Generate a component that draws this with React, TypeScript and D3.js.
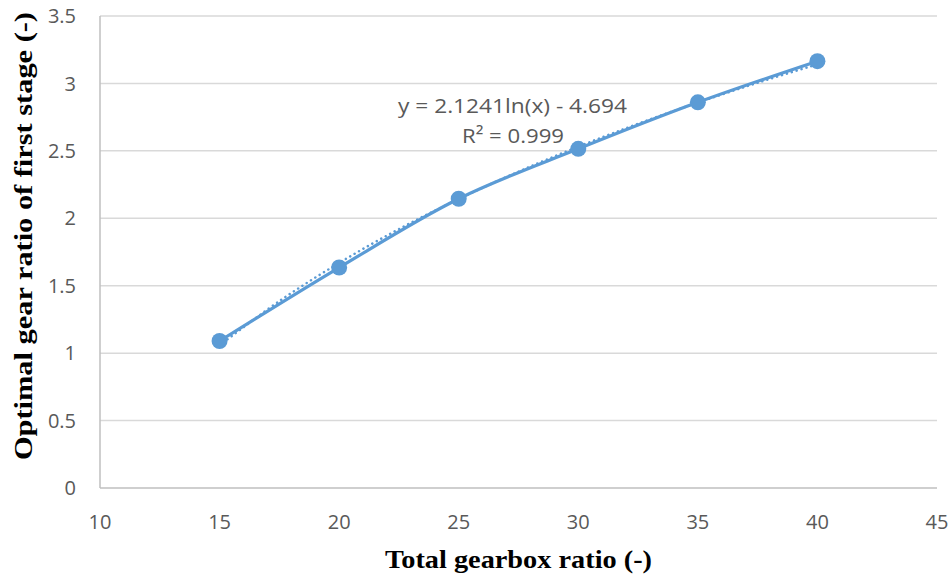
import React from "react";
import * as d3 from "d3";

// values
const totalRatio = [15, 20, 25, 30, 35, 40];
const firstStage = [1.09, 1.635, 2.145, 2.515, 2.86, 3.165];
// log trendline as printed: y = 2.1241ln(x) - 4.694
const trendX = [15, 17.5, 20, 22.5, 25, 27.5, 30, 32.5, 35, 37.5, 40];
const trendY = [1.058, 1.386, 1.669, 1.920, 2.143, 2.346, 2.531, 2.701, 2.858, 3.005, 3.142];
const xTicks = [10, 15, 20, 25, 30, 35, 40, 45];
const yTicks = [0, 0.5, 1, 1.5, 2, 2.5, 3, 3.5];

const W = 952;
const H = 579;
const margin = { top: 16, right: 15, bottom: 91, left: 100 };
const blue = "#5B9BD5";
const tickFont = "'Open Sans', 'Noto Sans', sans-serif";
const titleFont = "'Liberation Serif', 'Times New Roman', serif";

export default function App() {
  const x = d3.scaleLinear().domain([10, 45]).range([margin.left, W - margin.right]);
  const y = d3.scaleLinear().domain([0, 3.5]).range([H - margin.bottom, margin.top]);

  const points = totalRatio.map((t, i) => [t, firstStage[i]] as [number, number]);
  const trend = trendX.map((t, i) => [t, trendY[i]] as [number, number]);

  const line = d3.line<[number, number]>()
    .x(d => x(d[0]))
    .y(d => y(d[1]))
    .curve(d3.curveCatmullRom.alpha(0.5));

  return (
    <svg width={W} height={H} style={{ position: "absolute", left: 0, top: 0, background: "#fff" }}>
      {/* gridlines */}
      {yTicks.filter(t => t > 0).map(t => (
        <line key={t} x1={x(10)} x2={x(45)} y1={y(t)} y2={y(t)} stroke="#d9d9d9" strokeWidth={1.5} />
      ))}
      {/* axes */}
      <line x1={x(10)} x2={x(45)} y1={y(0)} y2={y(0)} stroke="#bfbfbf" strokeWidth={1.5} />
      <line x1={x(10)} x2={x(10)} y1={y(0)} y2={y(3.5)} stroke="#bfbfbf" strokeWidth={1.5} />

      {yTicks.map(t => (
        <text key={t} x={x(10) - 24} y={y(t)} dy="0.36em" textAnchor="end"
          fontFamily={tickFont} fontSize={20} fill="#595959">{t}</text>
      ))}
      {xTicks.map(t => (
        <text key={t} x={x(t)} y={y(0) + 41} textAnchor="middle"
          fontFamily={tickFont} fontSize={20} fill="#595959">{t}</text>
      ))}

      {/* trendline */}
      <path d={line(trend) ?? ""} fill="none" stroke={blue} strokeWidth={2.5}
        strokeDasharray="0.1 5" strokeLinecap="round" />
      {/* series */}
      <path d={line(points) ?? ""} fill="none" stroke={blue} strokeWidth={3.2} strokeLinecap="round" />
      {points.map((d, i) => (
        <circle key={i} cx={x(d[0])} cy={y(d[1])} r={8} fill={blue} />
      ))}

      {/* equation label */}
      <text x={512.5} y={113} textAnchor="middle" fontFamily={tickFont} fontSize={20} fill="#595959"
        textLength={229} lengthAdjust="spacingAndGlyphs">
        y = 2.1241ln(x) - 4.694
      </text>
      <text x={513} y={143} textAnchor="middle" fontFamily={tickFont} fontSize={20} fill="#595959"
        textLength={102} lengthAdjust="spacingAndGlyphs">
        R² = 0.999
      </text>

      {/* axis titles */}
      <text x={518.5} y={568} textAnchor="middle" fontFamily={titleFont} fontWeight="bold"
        fontSize={26} fill="#000" textLength={267} lengthAdjust="spacingAndGlyphs">
        Total gearbox ratio (-)
      </text>
      <text transform={`translate(32, 236) rotate(-90)`} textAnchor="middle"
        fontFamily={titleFont} fontWeight="bold" fontSize={26} fill="#000"
        textLength={448} lengthAdjust="spacingAndGlyphs">
        Optimal gear ratio of first stage (-)
      </text>
    </svg>
  );
}
